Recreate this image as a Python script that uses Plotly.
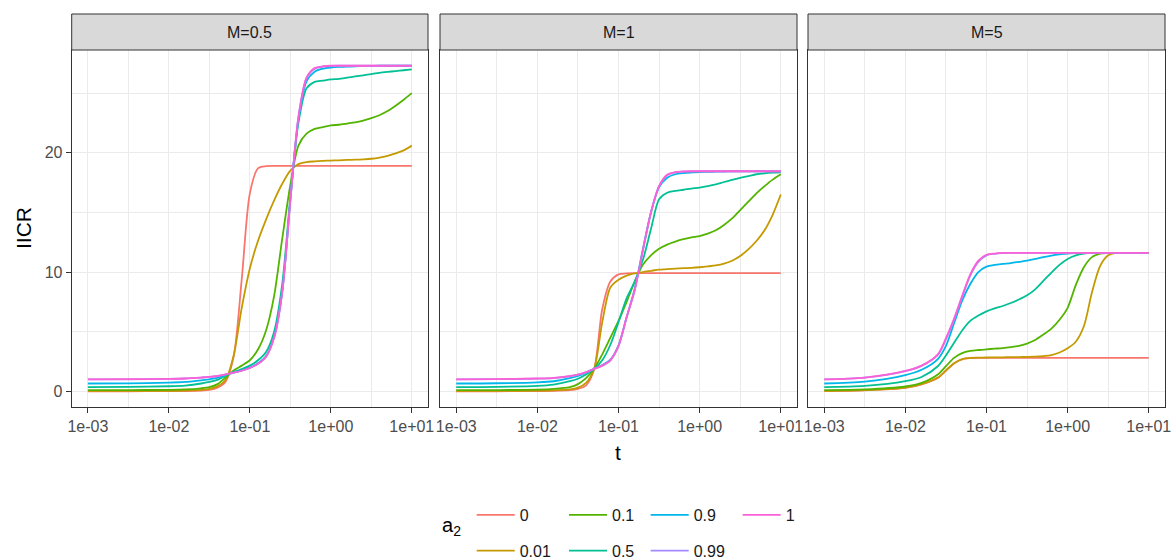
import plotly.graph_objects as go

W, H = 1172, 559

# ---- data -----------------------------------------------------------------
LOG_T = [-3.0, -2.5, -2.0, -1.8, -1.6, -1.5, -1.4, -1.3, -1.2, -1.1, -1.0,
         -0.9, -0.8, -0.7, -0.6, -0.5, -0.4, -0.3, -0.2, -0.1, 0.0,
         0.1, 0.2, 0.3, 0.4, 0.5, 0.6, 0.7, 0.8, 0.9, 1.0]
T = [10 ** v for v in LOG_T]

A2_LABELS = ["0", "0.01", "0.1", "0.5", "0.9", "0.99", "1"]
A2_COLORS = ["#F8766D", "#C49A00", "#53B400", "#00C094", "#00B6EB", "#A58AFF", "#FB61D7"]
PANEL_TITLES = ["M=0.5", "M=1", "M=5"]

X_TICK_VALS = [1e-3, 1e-2, 1e-1, 1e0, 1e1]
X_TICK_TEXT = ["1e-03", "1e-02", "1e-01", "1e+00", "1e+01"]
X_MINOR_VALS = [10 ** -2.5, 10 ** -1.5, 10 ** -0.5, 10 ** 0.5]
Y_TICK_VALS = [0, 10, 20]
Y_MINOR_VALS = [5, 15, 25]

# M = 0.5
M05_A0 = [0.0, 0.0, 0.01, 0.02, 0.06, 0.12, 0.3, 0.8, 2.9, 9.4, 16.6, 18.7, 18.88, 18.9,
          18.9, 18.9, 18.9, 18.9, 18.9, 18.9, 18.9, 18.9, 18.9, 18.9, 18.9, 18.9, 18.9,
          18.9, 18.9, 18.9, 18.9]
M05_A001 = [0.03, 0.03, 0.04, 0.06, 0.12, 0.2, 0.42, 0.95, 3.0, 7.0, 10.3, 12.6, 14.4,
            16.0, 17.4, 18.5, 19.05, 19.22, 19.28, 19.32, 19.35, 19.37, 19.4, 19.42, 19.45,
            19.5, 19.6, 19.75, 19.95, 20.2, 20.6]
M05_A01 = [0.1, 0.1, 0.12, 0.15, 0.25, 0.35, 0.6, 1.15, 1.75, 2.15, 2.6, 3.5, 5.1, 8.0,
           12.8, 17.3, 20.6, 21.6, 22.0, 22.15, 22.3, 22.35, 22.45, 22.55, 22.7, 22.9,
           23.15, 23.5, 23.95, 24.45, 25.0]
M05_A05 = [0.35, 0.36, 0.42, 0.48, 0.65, 0.78, 0.95, 1.3, 1.62, 1.85, 2.15, 2.6, 3.3, 5.0,
           9.0, 16.3, 22.5, 25.4, 25.95, 26.05, 26.15, 26.2, 26.3, 26.4, 26.5, 26.6, 26.7,
           26.78, 26.85, 26.92, 27.0]
M05_A09 = [0.65, 0.66, 0.72, 0.78, 0.92, 1.0, 1.12, 1.38, 1.57, 1.75, 1.98, 2.35, 2.95,
           4.6, 8.4, 16.0, 22.8, 26.0, 26.8, 27.05, 27.15, 27.2, 27.22, 27.25, 27.27, 27.28,
           27.3, 27.3, 27.3, 27.3, 27.3]
M05_A099 = [0.99, 1.0, 1.04, 1.07, 1.15, 1.2, 1.28, 1.42, 1.56, 1.72, 1.95, 2.3, 2.9, 4.5,
            8.3, 16.0, 23.0, 26.25, 27.05, 27.22, 27.28, 27.3, 27.3, 27.3, 27.3, 27.3, 27.3,
            27.3, 27.3, 27.3, 27.3]
M05_A1 = [1.0, 1.01, 1.04, 1.07, 1.15, 1.2, 1.28, 1.42, 1.56, 1.72, 1.95, 2.3, 2.9, 4.5,
          8.3, 16.0, 23.0, 26.3, 27.1, 27.25, 27.3, 27.3, 27.3, 27.3, 27.3, 27.3, 27.3,
          27.3, 27.3, 27.3, 27.3]

# M = 1
M1_A0 = [0.0, 0.0, 0.02, 0.04, 0.1, 0.2, 0.5, 1.85, 6.9, 9.2, 9.8, 9.88, 9.9, 9.9, 9.9,
         9.9, 9.9, 9.9, 9.9, 9.9, 9.9, 9.9, 9.9, 9.9, 9.9, 9.9, 9.9, 9.9, 9.9, 9.9, 9.9]
M1_A001 = [0.03, 0.03, 0.05, 0.08, 0.15, 0.3, 0.7, 1.88, 5.8, 8.7, 9.35, 9.7, 9.88, 10.0,
           10.1, 10.2, 10.25, 10.28, 10.32, 10.35, 10.4, 10.47, 10.55, 10.7, 10.95, 11.35,
           11.9, 12.6, 13.5, 14.8, 16.5]
M1_A01 = [0.1, 0.1, 0.14, 0.2, 0.35, 0.6, 1.1, 1.88, 3.1, 4.5, 5.9, 7.5, 9.2, 10.6, 11.4,
          11.95, 12.3, 12.55, 12.75, 12.9, 13.02, 13.22, 13.5, 13.95, 14.5, 15.2, 15.9,
          16.6, 17.2, 17.75, 18.2]
M1_A05 = [0.35, 0.37, 0.45, 0.56, 0.84, 1.05, 1.4, 1.88, 2.6, 3.9, 5.8, 7.8, 9.2, 11.0,
          13.6, 16.1, 16.65, 16.8, 16.9, 17.0, 17.08, 17.2, 17.35, 17.55, 17.72, 17.9,
          18.05, 18.2, 18.28, 18.33, 18.36]
M1_A09 = [0.65, 0.67, 0.75, 0.84, 1.1, 1.28, 1.55, 1.88, 2.2, 2.65, 3.85, 6.2, 8.6, 11.9,
          15.0, 17.1, 17.9, 18.2, 18.3, 18.35, 18.38, 18.4, 18.42, 18.43, 18.44, 18.45,
          18.45, 18.45, 18.45, 18.45, 18.45]
M1_A099 = [0.99, 1.01, 1.06, 1.11, 1.26, 1.39, 1.59, 1.88, 2.15, 2.6, 3.8, 6.2, 8.5, 11.8,
           15.0, 17.2, 18.12, 18.36, 18.42, 18.44, 18.45, 18.45, 18.45, 18.45, 18.45,
           18.45, 18.45, 18.45, 18.45, 18.45, 18.45]
M1_A1 = [1.0, 1.02, 1.07, 1.12, 1.27, 1.4, 1.6, 1.88, 2.15, 2.6, 3.8, 6.2, 8.5, 11.8, 15.0,
         17.2, 18.15, 18.38, 18.43, 18.45, 18.45, 18.45, 18.45, 18.45, 18.45, 18.45,
         18.45, 18.45, 18.45, 18.45, 18.45]

# M = 5
M5_A0 = [0.02, 0.08, 0.28, 0.58, 1.12, 1.72, 2.33, 2.68, 2.78, 2.8, 2.8, 2.8, 2.8, 2.8,
         2.8, 2.8, 2.8, 2.8, 2.8, 2.8, 2.8, 2.8, 2.8, 2.8, 2.8, 2.8, 2.8, 2.8, 2.8, 2.8, 2.8]
M5_A001 = [0.03, 0.09, 0.3, 0.6, 1.15, 1.75, 2.35, 2.7, 2.8, 2.82, 2.83, 2.84, 2.85, 2.86,
           2.87, 2.88, 2.9, 2.95, 3.03, 3.25, 3.6, 4.15, 5.45, 8.3, 10.5, 11.4, 11.6, 11.6,
           11.6, 11.6, 11.6]
M5_A01 = [0.1, 0.15, 0.4, 0.7, 1.4, 2.1, 2.8, 3.2, 3.38, 3.46, 3.52, 3.57, 3.62, 3.7, 3.8,
          4.0, 4.3, 4.75, 5.25, 6.0, 7.0, 8.9, 10.4, 11.25, 11.55, 11.6, 11.6, 11.6, 11.6,
          11.6, 11.6]
M5_A05 = [0.35, 0.45, 0.85, 1.2, 2.1, 3.0, 4.06, 5.1, 5.9, 6.35, 6.7, 6.95, 7.15, 7.4,
          7.7, 8.05, 8.55, 9.25, 9.95, 10.6, 11.1, 11.4, 11.55, 11.6, 11.6, 11.6, 11.6,
          11.6, 11.6, 11.6, 11.6]
M5_A09 = [0.65, 0.8, 1.35, 1.8, 2.7, 3.8, 5.7, 7.6, 9.0, 10.0, 10.45, 10.6, 10.68, 10.75,
          10.85, 10.95, 11.1, 11.25, 11.38, 11.48, 11.55, 11.58, 11.6, 11.6, 11.6, 11.6,
          11.6, 11.6, 11.6, 11.6, 11.6]
M5_A099 = [0.99, 1.14, 1.69, 2.13, 3.05, 4.35, 6.0, 7.9, 9.7, 10.85, 11.4, 11.53, 11.58,
           11.6, 11.6, 11.6, 11.6, 11.6, 11.6, 11.6, 11.6, 11.6, 11.6, 11.6, 11.6, 11.6,
           11.6, 11.6, 11.6, 11.6, 11.6]
M5_A1 = [1.0, 1.15, 1.7, 2.15, 3.1, 4.45, 6.1, 8.0, 9.8, 10.95, 11.45, 11.55, 11.6, 11.6,
         11.6, 11.6, 11.6, 11.6, 11.6, 11.6, 11.6, 11.6, 11.6, 11.6, 11.6, 11.6, 11.6,
         11.6, 11.6, 11.6, 11.6]

PANEL_SERIES = [
    [M05_A0, M05_A001, M05_A01, M05_A05, M05_A09, M05_A099, M05_A1],
    [M1_A0, M1_A001, M1_A01, M1_A05, M1_A09, M1_A099, M1_A1],
    [M5_A0, M5_A001, M5_A01, M5_A05, M5_A09, M5_A099, M5_A1],
]

# ---- geometry (window pixels) ----------------------------------------------
PANEL_X = [(71.7, 428.0), (440.0, 797.0), (808.0, 1165.0)]
PANEL_TOP, PANEL_BOTTOM = 50.0, 407.0
STRIP_TOP = 14.0
FONT = "Liberation Sans, Arial, Helvetica, sans-serif"


def fx(px):
    return px / W


def fy(py):
    return 1 - py / H


LEGEND_OF = ["legend", "legend", "legend2", "legend2", "legend3", "legend3", "legend4"]

fig = go.Figure()
for p in range(3):
    xa = "x" if p == 0 else f"x{p + 1}"
    ya = "y" if p == 0 else f"y{p + 1}"
    for k in range(7):
        fig.add_trace(go.Scatter(
            x=T, y=PANEL_SERIES[p][k], mode="lines",
            line=dict(color=A2_COLORS[k], width=1.8, shape="spline", smoothing=0.8),
            name=A2_LABELS[k], legend=LEGEND_OF[k], legendgroup=A2_LABELS[k],
            showlegend=(p == 0), xaxis=xa, yaxis=ya, hoverinfo="skip",
        ))

layout = dict(
    width=W, height=H, autosize=False, template="none",
    margin=dict(l=0, r=0, t=0, b=0, pad=0, autoexpand=False),
    paper_bgcolor="white", plot_bgcolor="white",
    font=dict(family=FONT, size=16, color="#1A1A1A"),
)

for p in range(3):
    x0, x1 = PANEL_X[p]
    suf = "" if p == 0 else str(p + 1)
    layout["xaxis" + suf] = dict(
        type="log", range=[-3.2, 1.2], domain=[fx(x0), fx(x1)],
        anchor="y" + suf,
        tickmode="array", tickvals=X_TICK_VALS, ticktext=X_TICK_TEXT,
        ticks="outside", ticklen=5, tickwidth=1, tickcolor="#333333",
        tickfont=dict(family=FONT, size=16, color="#4D4D4D"),
        ticklabeloverflow="allow",
        showgrid=True, gridcolor="#EBEBEB", gridwidth=1.2,
        minor=dict(tickmode="array", tickvals=X_MINOR_VALS, showgrid=True,
                   gridcolor="#EBEBEB", gridwidth=0.7, ticks=""),
        showline=True, mirror=True, linecolor="#333333", linewidth=1,
        zeroline=False, automargin=False, fixedrange=True,
    )
    layout["yaxis" + suf] = dict(
        range=[-1.32, 28.62], domain=[fy(PANEL_BOTTOM), fy(PANEL_TOP)],
        anchor="x" + suf,
        tickmode="array", tickvals=Y_TICK_VALS,
        ticks="outside" if p == 0 else "", ticklen=5, tickwidth=1, tickcolor="#333333",
        showticklabels=(p == 0),
        tickfont=dict(family=FONT, size=16, color="#4D4D4D"),
        showgrid=True, gridcolor="#EBEBEB", gridwidth=1.2,
        minor=dict(tickmode="array", tickvals=Y_MINOR_VALS, showgrid=True,
                   gridcolor="#EBEBEB", gridwidth=0.7, ticks=""),
        showline=True, mirror=True, linecolor="#333333", linewidth=1,
        zeroline=False, automargin=False, fixedrange=True,
    )

shapes = []
annotations = []
for p in range(3):
    x0, x1 = PANEL_X[p]
    shapes.append(dict(type="rect", xref="paper", yref="paper",
                       x0=fx(x0), x1=fx(x1), y0=fy(PANEL_TOP), y1=fy(STRIP_TOP),
                       fillcolor="#D9D9D9", line=dict(color="#333333", width=1), layer="above"))
    annotations.append(dict(text=PANEL_TITLES[p], xref="paper", yref="paper",
                            x=fx((x0 + x1) / 2), y=fy((PANEL_TOP + STRIP_TOP) / 2),
                            xanchor="center", yanchor="middle", showarrow=False,
                            font=dict(family=FONT, size=16, color="#1A1A1A")))

annotations.append(dict(text="t", xref="paper", yref="paper",
                        x=fx((PANEL_X[0][0] + PANEL_X[2][1]) / 2), y=fy(452),
                        xanchor="center", yanchor="middle", showarrow=False,
                        font=dict(family=FONT, size=21, color="black")))
annotations.append(dict(text="IICR", xref="paper", yref="paper", textangle=-90,
                        x=fx(23.5), y=fy((PANEL_TOP + PANEL_BOTTOM) / 2),
                        xanchor="center", yanchor="middle", showarrow=False,
                        font=dict(family=FONT, size=21, color="black")))
annotations.append(dict(text="a<sub>2</sub>", xref="paper", yref="paper",
                        x=fx(440), y=fy(526), xanchor="left", yanchor="middle",
                        showarrow=False, font=dict(family=FONT, size=20, color="black")))

layout["shapes"] = shapes
layout["annotations"] = annotations

LEGEND_X = [471.7, 564.0, 645.7, 737.7]
LEGEND_TOP = 498.0
for i, name in enumerate(["legend", "legend2", "legend3", "legend4"]):
    layout[name] = dict(
        x=fx(LEGEND_X[i]), y=fy(LEGEND_TOP), xanchor="left", yanchor="top",
        orientation="v", traceorder="grouped", tracegroupgap=12,
        font=dict(family=FONT, size=16, color="#1A1A1A"),
        bgcolor="rgba(0,0,0,0)", borderwidth=0, itemwidth=38,
    )

fig.update_layout(**layout)
fig.write_html(
    "out.html",
    config={"responsive": False, "displayModeBar": False},
    post_script="document.body.style.margin='0px';"
                "document.documentElement.style.overflow='hidden';",
)
